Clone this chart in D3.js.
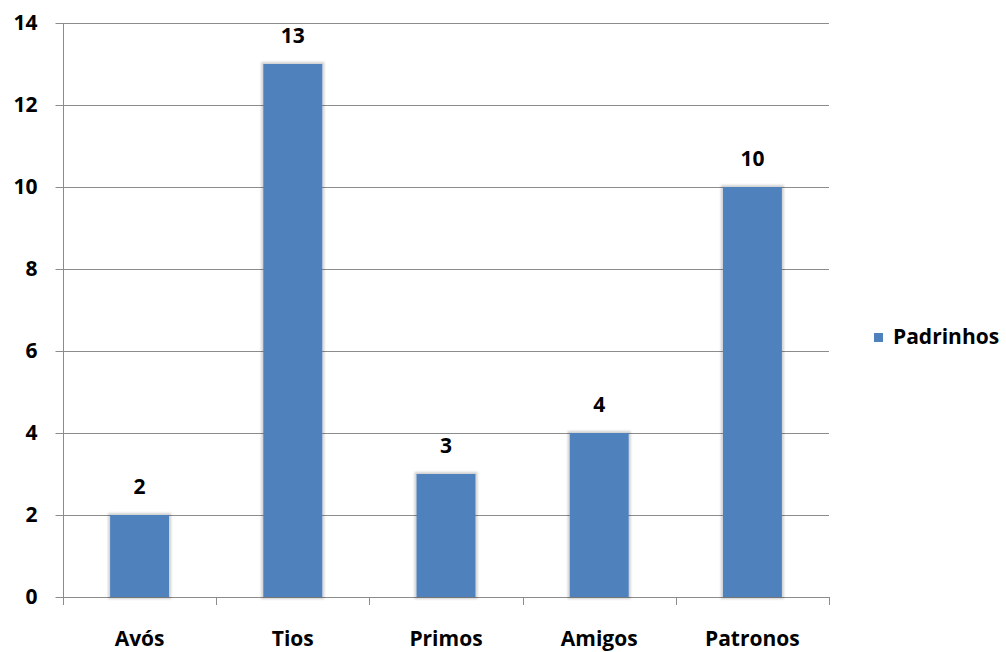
<!DOCTYPE html>
<html><head><meta charset="utf-8">
<script src="https://cdn.jsdelivr.net/npm/d3@7"></script>
<style>body{margin:0;background:#fff}svg{display:block}</style>
</head><body>
<svg id="c" width="1006" height="652"></svg>
<script>
const categories = ["Avós","Tios","Primos","Amigos","Patronos"];
const values = [2,13,3,4,10];
const seriesName = "Padrinhos";
const yTicks = [0,2,4,6,8,10,12,14];

const svg = d3.select("#c");
const font = "'Open Sans', Lato, sans-serif";
const fs = 21;
const pLeft = 63, pRight = 829, pTop = 23, pBottom = 597;

const x = d3.scaleBand().domain(categories).range([pLeft, pRight]).paddingInner(0.615).paddingOuter(0.3075);
const y = d3.scaleLinear().domain([0,14]).range([pBottom, pTop]);

const defs = svg.append("defs");
const f = defs.append("filter").attr("id","sh").attr("x","-20%").attr("y","-5%").attr("width","140%").attr("height","110%");
f.append("feMorphology").attr("in","SourceAlpha").attr("operator","dilate").attr("radius",1.5).attr("result","d");
f.append("feGaussianBlur").attr("in","d").attr("stdDeviation",1.2).attr("result","b");
f.append("feFlood").attr("flood-color","#000").attr("flood-opacity",0.18);
f.append("feComposite").attr("in2","b").attr("operator","in").attr("result","s");
const m = f.append("feMerge");
m.append("feMergeNode").attr("in","s");
m.append("feMergeNode").attr("in","SourceGraphic");

// gridlines
svg.append("g").selectAll("line").data(yTicks.filter(d=>d>0)).join("line")
  .attr("x1", pLeft).attr("x2", pRight)
  .attr("y1", d=>Math.round(y(d))+0.5).attr("y2", d=>Math.round(y(d))+0.5)
  .attr("stroke","#8c8c8c").attr("stroke-width",1);

// y axis
const ya = svg.append("g").attr("transform",`translate(${pLeft+0.5},0)`)
  .call(d3.axisLeft(y).tickValues(yTicks).tickSize(8).tickPadding(18).tickFormat(d3.format("d")));
ya.select(".domain").attr("stroke","#8c8c8c").attr("d",`M0,${pTop}V${pBottom}`);
ya.selectAll(".tick line").attr("stroke","#8c8c8c");
ya.selectAll(".tick text").attr("font-family",font).attr("font-weight","bold").attr("font-size",fs).attr("fill","#000");

// x axis line with boundary ticks
const boundaries = d3.range(categories.length+1).map(i=>pLeft + i*x.step());
svg.append("line").attr("x1",pLeft).attr("x2",pRight).attr("y1",pBottom+0.5).attr("y2",pBottom+0.5).attr("stroke","#8c8c8c");
svg.append("g").selectAll("line").data(boundaries).join("line")
  .attr("x1",d=>Math.round(d)+0.5).attr("x2",d=>Math.round(d)+0.5)
  .attr("y1",pBottom).attr("y2",pBottom+8).attr("stroke","#8c8c8c");

// category labels
svg.append("g").selectAll("text").data(categories).join("text")
  .attr("x", d=>x(d)+x.bandwidth()/2).attr("y", 646)
  .attr("text-anchor","middle").attr("font-family",font).attr("font-weight","bold")
  .attr("font-size",fs).attr("fill","#000").text(d=>d);

// bars
svg.append("g").selectAll("rect").data(values).join("rect")
  .attr("x",(d,i)=>x(categories[i])).attr("width",x.bandwidth())
  .attr("y",d=>y(d)).attr("height",d=>y(0)-y(d))
  .attr("fill","#4f81bd").attr("filter","url(#sh)");

// value labels
svg.append("g").selectAll("text").data(values).join("text")
  .attr("x",(d,i)=>x(categories[i])+x.bandwidth()/2).attr("y",d=>y(d)-21)
  .attr("text-anchor","middle").attr("font-family",font).attr("font-weight","bold")
  .attr("font-size",fs).attr("fill","#000").text(d=>d);

// legend
const lg = svg.append("g").attr("transform","translate(874,333)");
lg.append("rect").attr("width",9).attr("height",9).attr("fill","#4f81bd");
lg.append("text").attr("x",19).attr("y",11).attr("font-family",font).attr("font-weight","bold")
  .attr("font-size",fs).attr("fill","#000").text(seriesName);
</script>
</body></html>
